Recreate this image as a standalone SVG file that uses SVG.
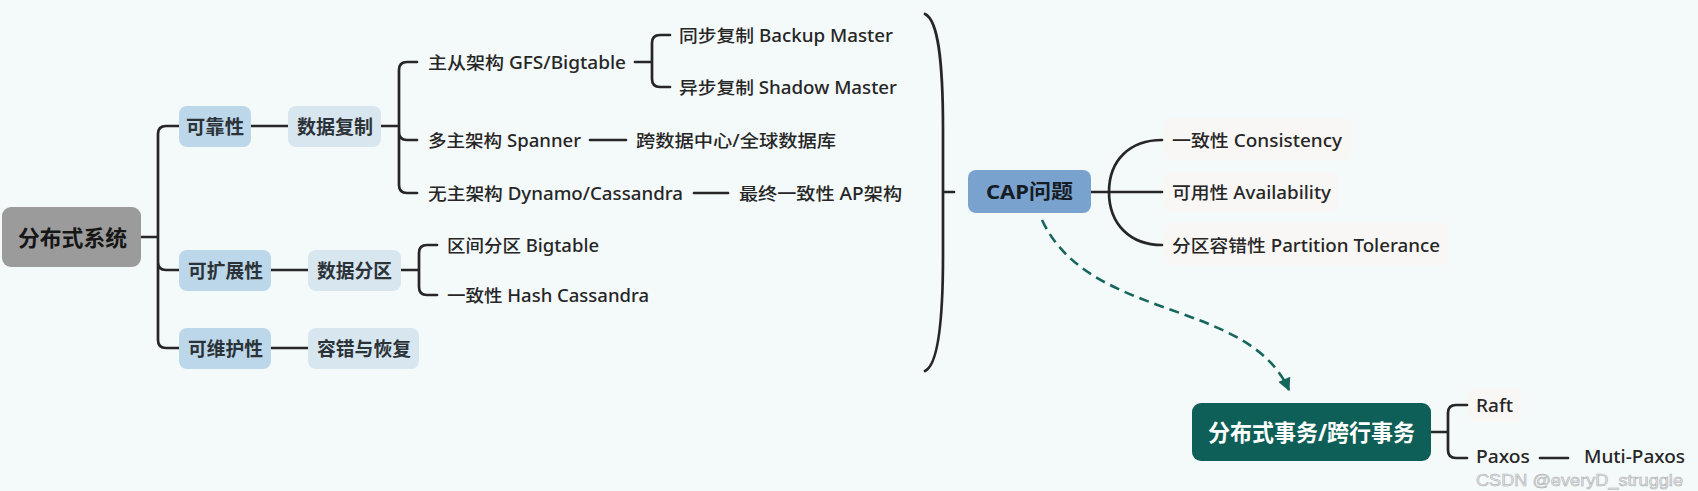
<svg xmlns="http://www.w3.org/2000/svg" width="1698" height="491" viewBox="0 0 1698 491">
<defs>
<style>
text{font-family:"Noto Sans","Noto Sans CJK SC",sans-serif;dominant-baseline:central;}
.leaf{font-size:17.5px;font-weight:500;fill:#262626;}
.nt{font-size:19px;font-weight:bold;fill:#2c3338;}
.c{fill:none;stroke:#262626;stroke-width:2.7;stroke-linecap:round;}
.l1{fill:#bcd7e9;}
.l2{fill:#d8e6ef;}
.lb{fill:#f9f7f5;}
</style>
<marker id="arr" viewBox="0 0 10 10" refX="9" refY="5" markerWidth="15" markerHeight="13" markerUnits="userSpaceOnUse" orient="auto">
<path d="M0,0 L10,5 L0,10 z" fill="#17665d"/>
</marker>
</defs>
<rect width="1698" height="491" fill="#f4f9fa"/>

<g id="connectors">
<path class="c" d="M141,237 H158 M158,237 V134 Q158,126 166,126 H179 M158,237 V262 Q158,270 166,270 H179 M158,237 V340 Q158,348 166,348 H179"/>
<path class="c" d="M251,126 H288 M271,270 H308 M271,348 H308"/>
<path class="c" d="M381,126 H399 M399,126 V70 Q399,62 407,62 H417 M399,126 V132 Q399,140 407,140 H417 M399,126 V185 Q399,193 407,193 H417"/>
<path class="c" d="M635,62 H652 M652,62 V43 Q652,35 660,35 H670 M652,62 V79 Q652,87 660,87 H670"/>
<path class="c" d="M590,140 H626 M694,193 H728"/>
<path class="c" d="M401,270 H419 M419,270 V253 Q419,245 427,245 H437 M419,270 V287 Q419,295 427,295 H437"/>
<path class="c" d="M925,14 C938,20 943,60 943,130 L943,255 C943,322 938,365 925,371 M943,192 H954"/>
<path class="c" d="M1091,192 H1109 M1109,192 C1109,160 1130,140 1162,140 M1109,192 H1162 M1109,192 C1109,224 1130,245 1162,245"/>
<path class="c" d="M1431,432 H1448 M1448,432 V413 Q1448,405 1456,405 H1467 M1448,432 V450 Q1448,458 1456,458 H1467 M1540,458 H1568"/>
<path d="M1042,220 C1090,322 1248,298 1289,390" fill="none" stroke="#17665d" stroke-width="2.6" stroke-dasharray="10,6" marker-end="url(#arr)"/>
</g>

<g id="root"><rect x="2" y="207" width="139" height="60" rx="9" fill="#9b9b9b"/><text x="18" y="237" style="font-size:22px;font-weight:bold;fill:#161616" textLength="109" lengthAdjust="spacingAndGlyphs">分布式系统</text></g>

<g id="n-reliability"><rect class="l1" x="179" y="106" width="72" height="41" rx="8"/><text class="nt" x="186" y="126.5" textLength="58" lengthAdjust="spacingAndGlyphs">可靠性</text></g>
<g id="n-replication"><rect class="l2" x="288" y="106" width="93" height="41" rx="8"/><text class="nt" x="297" y="126.5" textLength="76" lengthAdjust="spacingAndGlyphs">数据复制</text></g>
<g id="n-scalability"><rect class="l1" x="179" y="250" width="92" height="41" rx="8"/><text class="nt" x="188" y="270.5" textLength="75" lengthAdjust="spacingAndGlyphs">可扩展性</text></g>
<g id="n-partition"><rect class="l2" x="308" y="250" width="93" height="41" rx="8"/><text class="nt" x="317" y="270.5" textLength="75" lengthAdjust="spacingAndGlyphs">数据分区</text></g>
<g id="n-maintain"><rect class="l1" x="179" y="328" width="92" height="41" rx="8"/><text class="nt" x="188" y="348.5" textLength="75" lengthAdjust="spacingAndGlyphs">可维护性</text></g>
<g id="n-recovery"><rect class="l2" x="308" y="328" width="111" height="41" rx="8"/><text class="nt" x="317" y="348.5" textLength="94" lengthAdjust="spacingAndGlyphs">容错与恢复</text></g>

<g id="n-ms"><text class="leaf" x="428" y="62" textLength="198" lengthAdjust="spacingAndGlyphs">主从架构 GFS/Bigtable</text></g>
<g id="n-sync"><text class="leaf" x="679" y="35" textLength="214" lengthAdjust="spacingAndGlyphs">同步复制 Backup Master</text></g>
<g id="n-async"><text class="leaf" x="679" y="87" textLength="218" lengthAdjust="spacingAndGlyphs">异步复制 Shadow Master</text></g>
<g id="n-mm"><text class="leaf" x="428" y="140" textLength="153" lengthAdjust="spacingAndGlyphs">多主架构 Spanner</text></g>
<g id="n-global"><text class="leaf" x="636" y="140" textLength="200" lengthAdjust="spacingAndGlyphs">跨数据中心/全球数据库</text></g>
<g id="n-nm"><text class="leaf" x="428" y="193" textLength="255" lengthAdjust="spacingAndGlyphs">无主架构 Dynamo/Cassandra</text></g>
<g id="n-ap"><text class="leaf" x="739" y="193" textLength="163" lengthAdjust="spacingAndGlyphs">最终一致性 AP架构</text></g>
<g id="n-range"><text class="leaf" x="447" y="245" textLength="152" lengthAdjust="spacingAndGlyphs">区间分区 Bigtable</text></g>
<g id="n-hash"><text class="leaf" x="447" y="295" textLength="202" lengthAdjust="spacingAndGlyphs">一致性 Hash Cassandra</text></g>

<g id="n-cap"><rect x="968" y="170" width="123" height="43" rx="8" fill="#7aa2cf"/><text x="986" y="191.5" style="font-size:20px;font-weight:bold;fill:#161c24" textLength="87" lengthAdjust="spacingAndGlyphs">CAP问题</text></g>
<g id="n-c"><rect class="lb" x="1165" y="118" width="185" height="42" rx="6"/><text class="leaf" x="1172" y="140" textLength="170" lengthAdjust="spacingAndGlyphs">一致性 Consistency</text></g>
<g id="n-a"><rect class="lb" x="1165" y="172" width="173" height="40" rx="6"/><text class="leaf" x="1172" y="192" textLength="159" lengthAdjust="spacingAndGlyphs">可用性 Availability</text></g>
<g id="n-p"><rect class="lb" x="1165" y="223" width="283" height="42" rx="6"/><text class="leaf" x="1172" y="245" textLength="268" lengthAdjust="spacingAndGlyphs">分区容错性 Partition Tolerance</text></g>

<g id="n-tx"><rect x="1192" y="403" width="239" height="58" rx="9" fill="#0e5f57"/><text x="1208" y="432" style="font-size:23px;font-weight:bold;fill:#ffffff" textLength="207" lengthAdjust="spacingAndGlyphs">分布式事务/跨行事务</text></g>
<g id="n-raft"><rect class="lb" x="1469" y="388" width="52" height="34" rx="6"/><text class="leaf" x="1476" y="405" textLength="37" lengthAdjust="spacingAndGlyphs">Raft</text></g>
<g id="n-paxos"><text class="leaf" x="1476" y="456" textLength="54" lengthAdjust="spacingAndGlyphs">Paxos</text></g>
<g id="n-multi"><text class="leaf" x="1584" y="456" textLength="101" lengthAdjust="spacingAndGlyphs">Muti-Paxos</text></g>

<text x="1476" y="480" style="font-family:'Liberation Sans',sans-serif;font-size:16px;fill:#e4e6e7;stroke:#a9acae;stroke-width:0.5" textLength="207" lengthAdjust="spacingAndGlyphs">CSDN @everyD_struggle</text>
</svg>
